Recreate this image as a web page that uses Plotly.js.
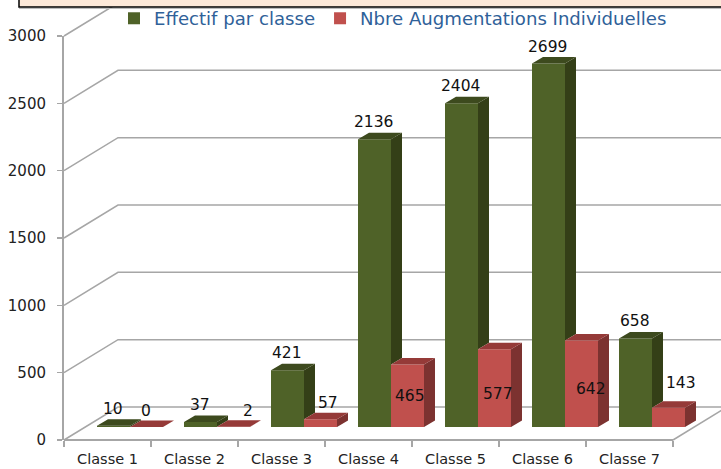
<!DOCTYPE html>
<html>
<head>
<meta charset="utf-8">
<script src="https://cdn.plot.ly/plotly-3.0.1.min.js"></script>
<style>html,body{margin:0;padding:0;background:#fff;overflow:hidden}#c{width:721px;height:469px}</style>
</head>
<body>
<div id="c"></div>
<script>
// Data
const categories = ["Classe 1","Classe 2","Classe 3","Classe 4","Classe 5","Classe 6","Classe 7"];
const effectif = [10,37,421,2136,2404,2699,658];
const augmentations = [0,2,57,465,577,642,143];
const yTicks = [0,500,1000,1500,2000,2500,3000];

// Geometry of the fake 3D view
const W=721,H=469,L=64,AXEND=673,R=721,T=36,B=440;
const pxU=(AXEND-L)/categories.length, pxV=(B-T)/3000;
const u=p=>p/pxU, v=p=>p/pxV;
const xs=categories.map((_,i)=>i+1);
const floorBase=v(13), barW=u(33), greenOff=u(-10.5), redOff=greenOff+barW;
const dx=u(11), dv=v(6.5);
const wallDx=54/(R-L), wallDy=33/(B-T), endF=(AXEND-L)/(R-L);

function sidePolys(off,tops,lows){
  const X=[],Y=[];
  xs.forEach((x,i)=>{
    const r=x+off+barW, lo=floorBase+lows[i], hi=floorBase+tops[i];
    X.push(r,r+dx,r+dx,r,null); Y.push(lo,lo+dv,hi+dv,hi,null);
  });
  return {X,Y};
}
function topPolys(off,tops){
  const X=[],Y=[];
  xs.forEach((x,i)=>{
    const l=x+off,r=l+barW,t=floorBase+tops[i];
    X.push(l,l+dx,r+dx,r,null); Y.push(t,t+dv,t+dv,t,null);
  });
  return {X,Y};
}
function face(p,color){
  return {type:'scatter',mode:'lines',x:p.X,y:p.Y,fill:'toself',fillcolor:color,
    line:{width:0,color:color},showlegend:false,hoverinfo:'skip',cliponaxis:false};
}
const GREEN='#4F6228',RED='#C0504D';
const traces=[
 {type:'bar',name:'Effectif par classe',x:xs,y:effectif,base:floorBase,width:barW,offset:greenOff,
  marker:{color:GREEN,line:{width:0}},cliponaxis:false},
 {type:'bar',name:'Nbre Augmentations Individuelles',x:xs,y:augmentations,base:floorBase,width:barW,offset:redOff,
  marker:{color:RED,line:{width:0}},cliponaxis:false},
 face(sidePolys(greenOff,effectif,effectif.map((g,i)=>Math.min(g,augmentations[i]))),'#343F17'),
 face(topPolys(greenOff,effectif),'#3D4A1E'),
 face(sidePolys(redOff,augmentations,augmentations.map(()=>0)),'#7C3230'),
 face(topPolys(redOff,augmentations),'#953A38')
];

// Walls
const GRID='#A6A6A6';
const shapes=[];
yTicks.forEach(t=>{
  const f=t/3000;
  shapes.push({type:'path',layer:'below',xref:'x domain',yref:'y domain',
    path:`M0,${f} L${wallDx},${f+wallDy} L${endF+wallDx},${f+wallDy}`,line:{color:GRID,width:1.5}});
});
shapes.push({type:'line',layer:'below',xref:'x domain',yref:'y domain',x0:endF,y0:0,x1:endF+wallDx,y1:wallDy,line:{color:GRID,width:1.5}});
shapes.push({type:'line',layer:'below',xref:'x domain',yref:'y domain',x0:0,y0:0,x1:endF,y1:0,line:{color:GRID,width:2}});
// Banner cut off at the top of the picture
const px=p=>(p-L)/(R-L), py=p=>(B-p)/(B-T);
shapes.push({type:'line',layer:'above',xref:'paper',yref:'paper',x0:px(19),x1:px(730),y0:py(8.5),y1:py(8.5),line:{color:'#BDBDBD',width:1}});
shapes.push({type:'rect',layer:'above',xref:'paper',yref:'paper',x0:px(19),x1:px(730),y0:py(-6),y1:py(7),fillcolor:'#FDE9D9',line:{color:'#000',width:1.5}});

// Value labels
const LABEL={family:'"DejaVu Sans"',size:15.5,color:'#111'};
const greenShift=effectif.map(()=>[-1,17]);
const redShift=[[-1,16],[14,16],[7,16],[2,-32],[3,-45],[9,-48],[12,25]];
const annotations=[];
xs.forEach((x,i)=>{
  annotations.push({xref:'x',yref:'y',x:x+greenOff+barW/2,y:floorBase+effectif[i],text:String(effectif[i]),showarrow:false,
    xshift:greenShift[i][0],yshift:greenShift[i][1],font:LABEL,xanchor:'center',yanchor:'middle'});
  annotations.push({xref:'x',yref:'y',x:x+redOff+barW/2,y:floorBase+augmentations[i],text:String(augmentations[i]),showarrow:false,
    xshift:redShift[i][0],yshift:redShift[i][1],font:LABEL,xanchor:'center',yanchor:'middle'});
});

const layout={
 width:W,height:H,margin:{l:L,r:W-R,t:T,b:H-B,pad:0,autoexpand:false},
 paper_bgcolor:'#fff',plot_bgcolor:'rgba(0,0,0,0)',
 barmode:'overlay',hovermode:false,
 font:{family:'"DejaVu Sans"',color:'#222'},
 xaxis:{type:'linear',range:[0.5,0.5+u(R-L)],tickmode:'array',tickvals:xs,ticktext:categories,ticks:'',
   tickfont:{family:'"DejaVu Sans"',size:14.5,color:'#222'},showgrid:false,zeroline:false,
   showline:false,ticklabelstandoff:8,
   minor:{tickmode:'array',tickvals:[0.5,1.5,2.5,3.5,4.5,5.5,6.5,7.5],ticks:'outside',ticklen:6,tickwidth:1.5,tickcolor:GRID,showgrid:false}},
 yaxis:{range:[0,3000],tickmode:'array',tickvals:yTicks,ticks:'outside',ticklen:5,tickwidth:1.5,tickcolor:GRID,
   tickfont:{family:'"DejaVu Sans"',size:15,color:'#222'},showgrid:false,zeroline:false,
   showline:true,linecolor:GRID,linewidth:2,ticklabelstandoff:8},
 legend:{orientation:'h',x:px(114),xanchor:'left',y:py(0),yanchor:'top',bgcolor:'rgba(0,0,0,0)',
   font:{family:'"DejaVu Sans"',size:18.1,color:'#2F6199'},itemwidth:30,traceorder:'normal'},
 shapes,annotations
};
Plotly.newPlot('c',traces,layout,{displayModeBar:false,staticPlot:true});
</script>
</body>
</html>
